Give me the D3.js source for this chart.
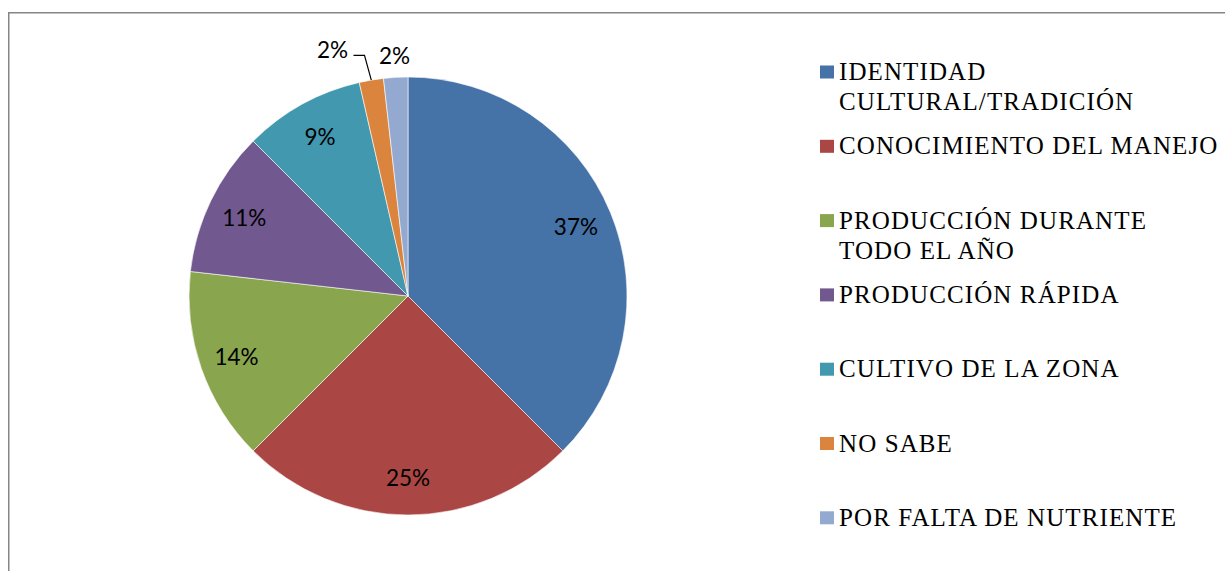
<!DOCTYPE html>
<html>
<head>
<meta charset="utf-8">
<script src="https://cdn.jsdelivr.net/npm/d3@7"></script>
<style>
  body { margin: 0; background: #fff; }
  svg { display: block; }
</style>
</head>
<body>
<div id="chart-area"></div>
<script>
// DATA
var categories = [
    ["IDENTIDAD", "CULTURAL/TRADICIÓN"],
    ["CONOCIMIENTO DEL MANEJO"],
    ["PRODUCCIÓN DURANTE", "TODO EL AÑO"],
    ["PRODUCCIÓN RÁPIDA"],
    ["CULTIVO DE LA ZONA"],
    ["NO SABE"],
    ["POR FALTA DE NUTRIENTE"]
];
var values = [21, 14, 8, 6, 5, 1, 1];
var pctLabels = ["37%", "25%", "14%", "11%", "9%", "2%", "2%"];
var colors = ["#4572A7", "#AA4643", "#89A54E", "#71588F", "#4198AF", "#DB843D", "#93A9CF"];

// SIZE
var width = 1225;
var height = 571;
var cx = 408, cy = 296, radius = 219;

var svg = d3.select("#chart-area")
    .append("svg")
    .attr("width", width)
    .attr("height", height);

// frame
svg.append("rect")
    .attr("x", 8.75)
    .attr("y", 12.75)
    .attr("width", 1240)
    .attr("height", 600)
    .attr("fill", "none")
    .attr("stroke", "#868686")
    .attr("stroke-width", 1.5);

var g = svg.append("g")
    .attr("transform", "translate(" + cx + "," + cy + ")");

var pie = d3.pie().sort(null).value(d => d);
var arcs = pie(values);

var arc = d3.arc().innerRadius(0).outerRadius(radius);
var labelArc = d3.arc().innerRadius(radius * 0.83).outerRadius(radius * 0.83);
var outerArc = d3.arc().innerRadius(radius + 22).outerRadius(radius + 22);

// slices
g.selectAll("path.slice")
    .data(arcs)
    .enter().append("path")
    .attr("class", "slice")
    .attr("d", arc)
    .attr("fill", (d, i) => colors[i])
    .attr("stroke", "#fff")
    .attr("stroke-width", 0.6);

// label positions: small slices go outside
var labels = arcs.map((d, i) => {
    var small = (d.endAngle - d.startAngle) < 0.2;
    var p = small ? outerArc.centroid(d) : labelArc.centroid(d);
    return { i: i, d: d, x: p[0], y: p[1], outside: small, leader: false };
});

// push colliding outside labels to the left
var outs = labels.filter(l => l.outside);
for (var k = outs.length - 2; k >= 0; k--) {
    var next = outs[k + 1];
    if (next.x - outs[k].x < 62) {
        outs[k].x = next.x - 62;
        outs[k].y = next.y - 6;
        outs[k].leader = true;
    }
}

g.selectAll("text.pct")
    .data(labels)
    .enter().append("text")
    .attr("class", "pct")
    .attr("x", d => d.x)
    .attr("y", d => d.y)
    .attr("text-anchor", "middle")
    .attr("dominant-baseline", "central")
    .attr("font-family", "Lato, 'Open Sans', sans-serif")
    .attr("font-size", "22.5px")
    .attr("fill", "#000")
    .text(d => pctLabels[d.i]);

// leader lines
labels.filter(l => l.leader).forEach(l => {
    var mid = (l.d.startAngle + l.d.endAngle) / 2;
    var ex = radius * Math.sin(mid);
    var ey = -radius * Math.cos(mid);
    g.append("polyline")
        .attr("points", [[l.x + 21, l.y + 6], [l.x + 32, l.y + 6], [ex, ey]].join(" "))
        .attr("fill", "none")
        .attr("stroke", "#000")
        .attr("stroke-width", 1.2);
});

// LEGEND
var legend = svg.append("g")
    .attr("transform", "translate(820,80)");

var rowStep = 74.3;

var items = legend.selectAll("g.item")
    .data(categories)
    .enter().append("g")
    .attr("class", "item")
    .attr("transform", (d, i) => "translate(0," + (i * rowStep) + ")");

items.append("rect")
    .attr("x", 0)
    .attr("y", -14.5)
    .attr("width", 14)
    .attr("height", 13)
    .attr("fill", (d, i) => colors[i]);

items.append("text")
    .attr("x", 19)
    .attr("y", 0)
    .attr("font-family", "'Liberation Serif', 'Times New Roman', serif")
    .attr("font-size", "25px")
    .attr("letter-spacing", "1.1px")
    .attr("fill", "#000")
    .selectAll("tspan")
    .data(d => d)
    .enter().append("tspan")
    .attr("x", 19)
    .attr("dy", (d, j) => j === 0 ? 0 : 30)
    .text(d => d);
</script>
</body>
</html>
